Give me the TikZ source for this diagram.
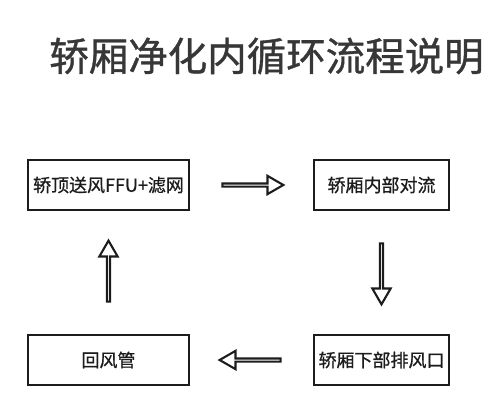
\documentclass[tikz,border=0pt]{standalone}
\usepackage{fontspec}
\newfontfamily\cjkfont[FakeBold=0.8]{Noto Sans CJK SC}
\newfontfamily\cjktitlefont[FakeBold=0.9]{Noto Sans CJK SC}
\definecolor{titlegray}{RGB}{55,55,55}
\definecolor{boxink}{RGB}{28,28,28}
\usetikzlibrary{positioning, shapes.arrows, calc}

\begin{document}
\begin{tikzpicture}[x=1pt, y=-1pt, node distance=123pt,
  box/.style={draw=boxink, line width=2.4pt, minimum height=49.6pt, inner sep=0pt,
              text=boxink, font=\cjkfont\fontsize{18}{20}\selectfont},
  flowarrow/.style={draw=boxink, line width=2.1pt, single arrow, single arrow head extend=7.6pt,
              single arrow tip angle=60, inner xsep=0pt, inner ysep=0.5pt,
              text height=0pt, text depth=0pt, text width=0pt, minimum height=61pt}]

  \useasboundingbox (0,0) rectangle (500,409);

  \node[text=titlegray, font=\cjktitlefont\fontsize{39.5}{44}\selectfont] (title) at (266.5,56) {轿厢净化内循环流程说明};

  \node[box, minimum width=160.6pt] (ffu) at (108.5,185) {轿顶送风FFU+滤网};
  \node[box, minimum width=134.6pt, right=of ffu] (flow) {轿厢内部对流};
  \node[box, minimum width=134.6pt, below=of flow] (vent) {轿厢下部排风口};
  \node[box, minimum width=160.6pt, below=of ffu] (duct) {回风管};

  \node[flowarrow] (a1) at ($(ffu.east)!0.5!(flow.west)$) {};
  \node[flowarrow, rotate=-90] (a2) at ($(flow.south)!0.5!(vent.north)$) {};
  \node[flowarrow, rotate=180] (a3) at ($(vent.west)!0.5!(duct.east)$) {};
  \node[flowarrow, rotate=90] (a4) at ($(duct.north)!0.5!(ffu.south)$) {};
\end{tikzpicture}
\end{document}
